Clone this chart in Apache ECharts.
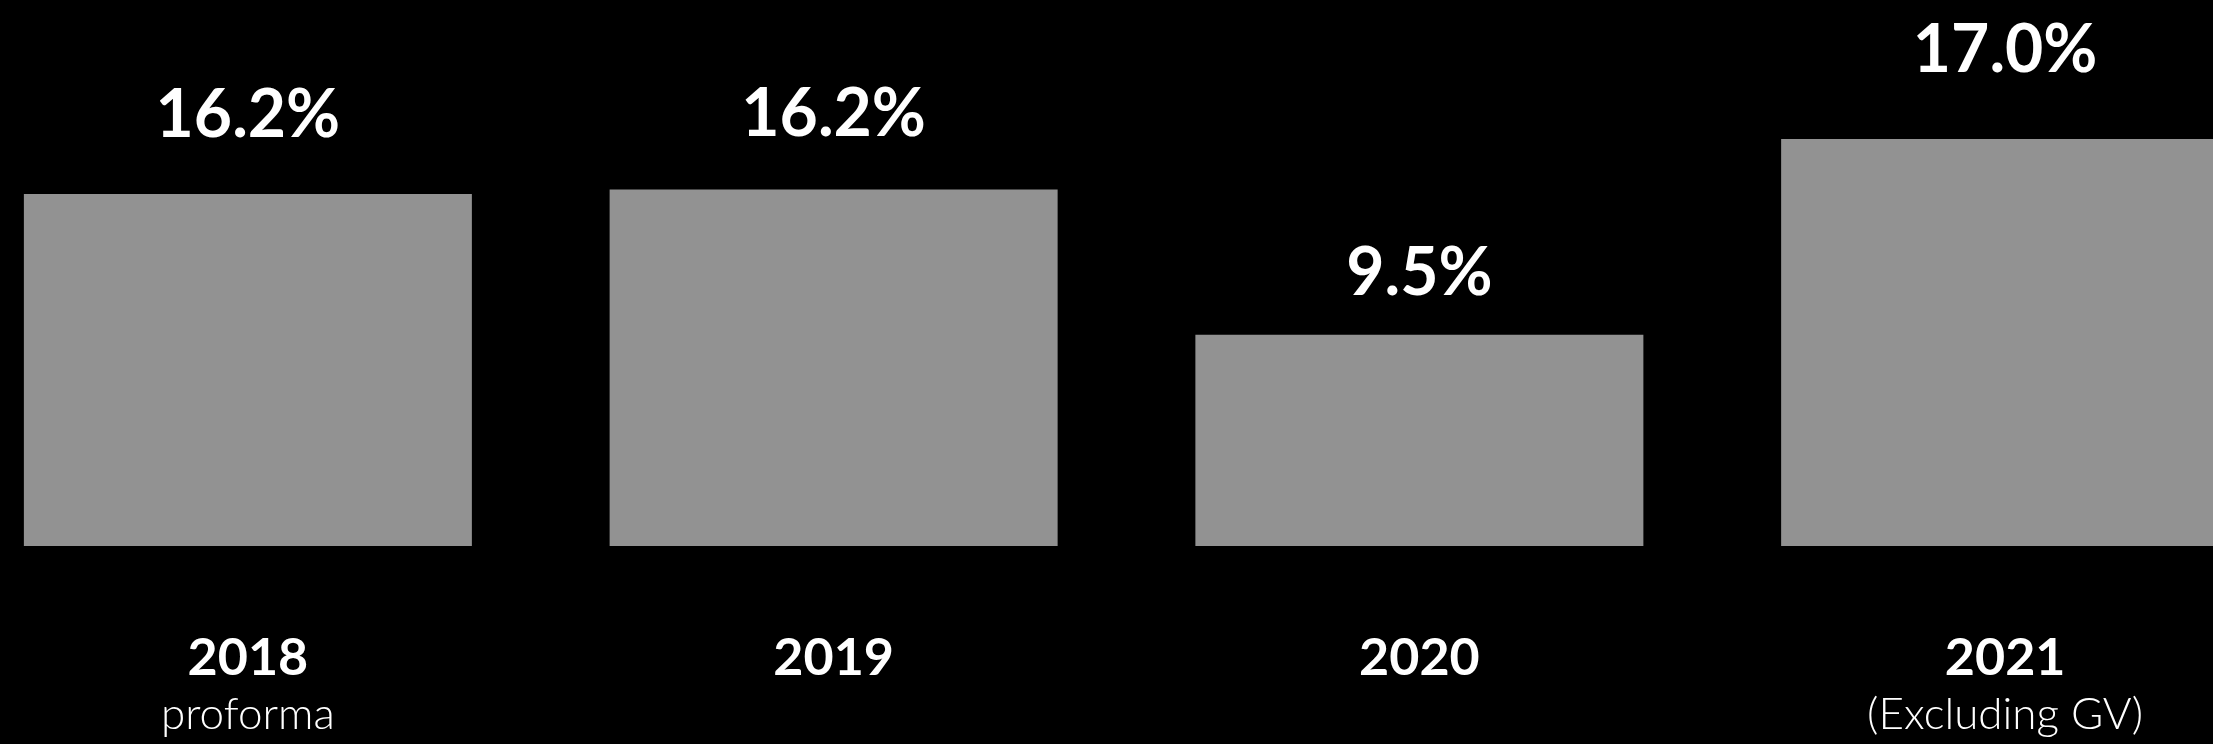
<!DOCTYPE html>
<html>
<head>
    <meta charset="utf-8">
    <title></title>
    <style>
        html,body{
            margin:0; padding:0; background:#000; overflow:hidden;
        }
        /* the slide crops the outer bars, so the chart is wider than the window */
        #main{ position:absolute; left:-45px; top:0; }
    </style>
</head>
<body>
<script src="https://cdn.jsdelivr.net/npm/echarts@6/dist/echarts.min.js"></script>
<div id="main" style="width:2343px;height:744px;"></div>
<script type="text/javascript">
    // years and the small line under some of them
    var years = ['2018', '2019', '2020', '2021'];
    var notes = ['proforma', '', '', '(Excluding GV)'];
    // printed margins
    var labels = [16.2, 16.2, 9.5, 17.0];
    // bar heights as drawn on the slide (not to scale with the labels)
    var barHeights = [16.0, 16.2, 9.6, 18.5];

    var myChart = echarts.init(document.getElementById('main'));

    // the slide puts each number at its own distance above its bar
    var labelDistance = [45, 42, 28, 55];

    myChart.setOption({
        backgroundColor: '#000',
        animation: false,
        grid: {
            left: 0,
            right: 0,
            top: 106,
            bottom: 198
        },
        xAxis: {
            type: 'category',
            data: years.map(function (y, i) {
                return notes[i] ? '{y|' + y + '}\n{s|' + notes[i] + '}' : '{y|' + y + '}';
            }),
            axisLine: { show: false },
            axisTick: { show: false },
            axisLabel: {
                margin: 82,
                verticalAlign: 'top',
                rich: {
                    y: {
                        color: '#fff',
                        fontFamily: 'Lato',
                        fontWeight: 'bold',
                        fontSize: 52,
                        lineHeight: 60
                    },
                    s: {
                        color: '#fff',
                        fontFamily: 'Lato',
                        fontWeight: 300,
                        fontSize: 44,
                        lineHeight: 54
                    }
                }
            }
        },
        yAxis: {
            type: 'value',
            min: 0,
            max: 20,
            show: false,
            splitLine: { show: false }
        },
        series: [{
            type: 'bar',
            barWidth: 448,
            itemStyle: { color: '#929292' },
            label: {
                show: true,
                position: 'top',
                color: '#fff',
                fontFamily: 'Lato',
                fontWeight: 'bold',
                fontSize: 66,
                lineHeight: 66,
                formatter: function (p) {
                    return labels[p.dataIndex].toFixed(1) + '%';
                }
            },
            data: barHeights.map(function (v, i) {
                return { value: v, label: { distance: labelDistance[i] } };
            })
        }]
    });
</script>
</body>
</html>
